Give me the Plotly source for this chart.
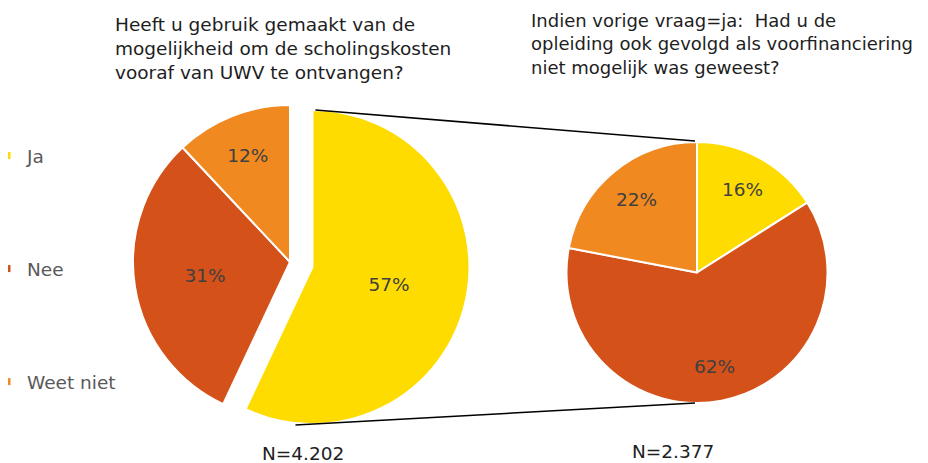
import math
import plotly.graph_objects as go

categories = ["Ja", "Nee", "Weet niet"]
left_values = [57, 31, 12]
right_values = [16, 62, 22]
left_title = "Heeft u gebruik gemaakt van de<br>mogelijkheid om de scholingskosten<br>vooraf van UWV te ontvangen?"
right_title = "Indien vorige vraag=ja:  Had u de<br>opleiding ook gevolgd als voorfinanciering<br>niet mogelijk was geweest?"
left_n = "N=4.202"
right_n = "N=2.377"

colors = ["#FFDC00", "#D4511A", "#F0891F"]
FONT = "DejaVu Sans"
FS = 18.5

# page has an 8px body margin; design in window pixels, convert to figure
OFF = 8
FW, FH = 928 - OFF, 463 - OFF

def px(X):
    return (X - OFF) / FW

def py(Y):
    return 1 - (Y - OFF) / FH

# geometry in window pixels
L_CX, L_CY, L_R, PULL = 290, 262, 157, 0.1465
R_CX, R_CY, R_R = 697, 272.5, 130.5

def dom(cx, cy, half):
    return dict(x=[px(cx - half), px(cx + half)],
                y=[py(cy + half), py(cy - half)])

fig = go.Figure()
fig.add_trace(go.Pie(
    labels=categories, values=left_values, sort=False, direction="clockwise",
    rotation=0, pull=[PULL, 0, 0], domain=dom(L_CX, L_CY, L_R * (1 + PULL)),
    marker=dict(colors=colors, line=dict(color="white", width=2)),
    texttemplate="%{value}%", textposition="inside",
    insidetextorientation="horizontal",
    textfont=dict(family=FONT, size=FS, color="#404040"),
    showlegend=False, hoverinfo="label+value",
))
fig.add_trace(go.Pie(
    labels=categories, values=right_values, sort=False, direction="clockwise",
    rotation=0, domain=dom(R_CX, R_CY, R_R),
    marker=dict(colors=colors, line=dict(color="white", width=2)),
    textinfo="none",
    showlegend=False, hoverinfo="label+value",
))

# legend entries
for i, c in enumerate(categories):
    fig.add_trace(go.Scatter(
        x=[None], y=[None], mode="markers", name=c, legendgroup=c,
        marker=dict(symbol="square", size=7, color=colors[i]),
        showlegend=True,
    ))

annotations = []
# right pie percentage labels at ~0.73 of radius along each slice's mid-angle
tot = sum(right_values)
cum = 0
for v in right_values:
    a = (cum + v / 2) / tot * 2 * math.pi
    cum += v
    annotations.append(dict(
        text=f"{v}%", x=px(R_CX + 0.73 * R_R * math.sin(a)),
        y=py(R_CY - 0.73 * R_R * math.cos(a)), xref="paper", yref="paper",
        showarrow=False, xanchor="center", yanchor="middle",
        font=dict(family=FONT, size=FS, color="#404040")))

# connector lines from pulled slice to second pie
mid = (left_values[0] / 2) / sum(left_values) * 2 * math.pi
ax = L_CX + PULL * L_R * math.sin(mid)
ay = L_CY - PULL * L_R * math.cos(mid)
shapes = [
    dict(type="line", xref="paper", yref="paper",
         x0=px(ax + 3), y0=py(ay - L_R), x1=px(R_CX - 2), y1=py(R_CY - R_R - 1),
         line=dict(color="black", width=1.6)),
    dict(type="line", xref="paper", yref="paper",
         x0=px(ax - 17), y0=py(ay + L_R + 1), x1=px(R_CX - 2), y1=py(R_CY + R_R),
         line=dict(color="black", width=1.6)),
]

annotations += [
    dict(text=left_title, x=px(113), y=py(12), xref="paper", yref="paper",
         xanchor="left", yanchor="top", align="left", showarrow=False,
         font=dict(family=FONT, size=FS, color="#1E1E1E")),
    dict(text=right_title, x=px(529), y=py(8), xref="paper", yref="paper",
         xanchor="left", yanchor="top", align="left", showarrow=False,
         font=dict(family=FONT, size=18, color="#1E1E1E")),
    dict(text=left_n, x=px(303), y=py(453), xref="paper", yref="paper",
         xanchor="center", yanchor="middle", showarrow=False,
         font=dict(family=FONT, size=FS, color="#1E1E1E")),
    dict(text=right_n, x=px(673), y=py(451), xref="paper", yref="paper",
         xanchor="center", yanchor="middle", showarrow=False,
         font=dict(family=FONT, size=FS, color="#1E1E1E")),
]

fig.update_layout(
    width=FW, height=FH,
    margin=dict(l=0, r=0, t=0, b=0, autoexpand=False),
    paper_bgcolor="white", plot_bgcolor="white",
    xaxis=dict(visible=False), yaxis=dict(visible=False),
    shapes=shapes, annotations=annotations,
    legend=dict(x=px(-13), y=py(137), xanchor="left", yanchor="top",
                traceorder="grouped", tracegroupgap=86,
                font=dict(family=FONT, size=FS, color="#595959"),
                bgcolor="rgba(0,0,0,0)", itemwidth=30),
    showlegend=True,
)

fig.write_html("out.html")
